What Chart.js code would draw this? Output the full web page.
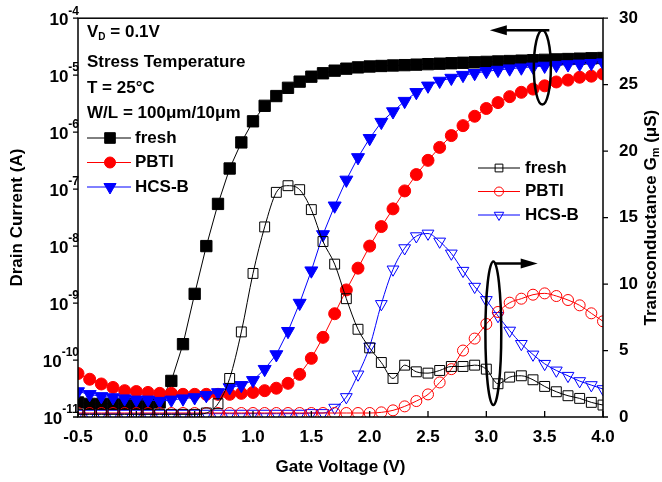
<!DOCTYPE html>
<html>
<head>
  <title>Drain Current / Transconductance</title>
  <script src="https://cdn.jsdelivr.net/npm/chart.js"></script>
  <style>
    html, body { margin: 0; padding: 0; background: #fff; }
  </style>
</head>
<body>
  <canvas id="ivChart" width="662" height="482"></canvas>
  <script>
    // Gate voltage sweep (V)
    const gateVoltage = [-0.5, -0.4, -0.3, -0.2, -0.1, 0.0, 0.1, 0.2, 0.3, 0.4, 0.5, 0.6, 0.7, 0.8, 0.9, 1.0,
      1.1, 1.2, 1.3, 1.4, 1.5, 1.6, 1.7, 1.8, 1.9, 2.0, 2.1, 2.2, 2.3, 2.4, 2.5, 2.6, 2.7, 2.8, 2.9, 3.0,
      3.1, 3.2, 3.3, 3.4, 3.5, 3.6, 3.7, 3.8, 3.9, 4.0];

    // Drain current (A), left log axis
    const idFresh = [1.8e-11, 1.7e-11, 1.7e-11, 1.7e-11, 1.7e-11, 1.7e-11, 1.7e-11, 1.8e-11,
      4.3e-11, 1.9e-10, 1.45e-9, 1.0e-8, 5.5e-8, 2.3e-7, 6.6e-7, 1.55e-6,
      2.9e-6, 4.3e-6, 6.0e-6, 7.7e-6, 9.4e-6, 1.08e-5, 1.2e-5, 1.3e-5, 1.37e-5, 1.42e-5,
      1.45e-5, 1.48e-5, 1.5e-5, 1.53e-5, 1.56e-5, 1.59e-5, 1.62e-5, 1.65e-5, 1.68e-5, 1.71e-5,
      1.74e-5, 1.77e-5, 1.8e-5, 1.83e-5, 1.86e-5, 1.89e-5, 1.92e-5, 1.95e-5, 1.98e-5, 2.0e-5];
    const idPBTI = [5.8e-11, 4.6e-11, 3.8e-11, 3.3e-11, 2.9e-11, 2.8e-11, 2.7e-11, 2.6e-11,
      2.6e-11, 2.5e-11, 2.5e-11, 2.5e-11, 2.5e-11, 2.5e-11, 2.6e-11, 2.7e-11,
      2.9e-11, 3.2e-11, 3.9e-11, 5.6e-11, 1.07e-10, 2.5e-10, 6.5e-10, 1.7e-9, 4.1e-9, 1.0e-8,
      2.2e-8, 4.5e-8, 9.3e-8, 1.8e-7, 3.2e-7, 5.4e-7, 8.7e-7, 1.3e-6, 1.9e-6, 2.6e-6,
      3.3e-6, 4.2e-6, 5.0e-6, 5.7e-6, 6.5e-6, 7.6e-6, 8.2e-6, 9.2e-6, 9.6e-6, 1.05e-5];
    const idHCSB = [2.8e-11, 2.5e-11, 2.3e-11, 2.2e-11, 2.1e-11, 2.0e-11, 2.0e-11, 1.9e-11,
      2.0e-11, 2.1e-11, 2.2e-11, 2.4e-11, 2.7e-11, 3.3e-11, 3.6e-11, 4.4e-11,
      6.9e-11, 1.25e-10, 3.2e-10, 1.0e-9, 3.7e-9, 1.6e-8, 5.1e-8, 1.45e-7, 3.6e-7, 7.8e-7,
      1.5e-6, 2.3e-6, 3.5e-6, 5.0e-6, 6.5e-6, 7.9e-6, 8.9e-6, 1.0e-5, 1.08e-5, 1.17e-5,
      1.23e-5, 1.3e-5, 1.35e-5, 1.4e-5, 1.45e-5, 1.5e-5, 1.54e-5, 1.58e-5, 1.62e-5, 1.66e-5];

    // Transconductance (uS), right linear axis
    const gmFresh = [0.2, 0.2, 0.2, 0.2, 0.2, 0.2, 0.2, 0.2,
      0.2, 0.2, 0.2, 0.3, 1.0, 2.9, 6.4, 10.8,
      14.3, 16.9, 17.4, 17.1, 15.6, 13.2, 11.5, 8.9, 6.6, 5.2,
      4.1, 2.9, 3.9, 3.4, 3.3, 3.5, 3.8, 3.8, 3.9, 3.6,
      2.5, 3.0, 3.1, 2.8, 2.3, 1.9, 1.6, 1.4, 1.1, 0.9];
    const gmPBTI = [0.3, 0.3, 0.3, 0.3, 0.3, 0.3, 0.3, 0.3,
      0.3, 0.3, 0.3, 0.3, 0.3, 0.3, 0.3, 0.3,
      0.3, 0.3, 0.3, 0.3, 0.3, 0.3, 0.3, 0.3, 0.3, 0.3,
      0.35, 0.5, 0.8, 1.2, 1.7, 2.6, 3.6, 5.0, 5.9, 7.0,
      7.9, 8.6, 8.9, 9.2, 9.3, 9.1, 8.8, 8.4, 7.8, 7.2];
    const gmHCSB = [0.25, 0.25, 0.25, 0.25, 0.25, 0.25, 0.25, 0.25,
      0.25, 0.25, 0.25, 0.25, 0.25, 0.25, 0.25, 0.25,
      0.25, 0.25, 0.25, 0.25, 0.3, 0.3, 0.7, 1.5, 3.2, 5.3,
      8.5, 11.1, 12.7, 13.6, 13.8, 13.2, 12.3, 11.0, 9.8, 8.8,
      7.6, 6.5, 5.5, 4.7, 4.0, 3.5, 3.1, 2.7, 2.4, 2.1];

    // Axis ticks
    const xTicks = [-0.5, 0.0, 0.5, 1.0, 1.5, 2.0, 2.5, 3.0, 3.5, 4.0];
    const leftExponents = [-11, -10, -9, -8, -7, -6, -5, -4];
    const rightTicks = [0, 5, 10, 15, 20, 25, 30];

    const FONT = '"Liberation Sans", Arial, sans-serif';
    const pts = arr => gateVoltage.map((v, i) => ({ x: v, y: arr[i] }));

    function series(label, arr, color, style, radius, filled, axis, smooth) {
      return {
        label: label,
        data: pts(arr),
        yAxisID: axis,
        borderColor: color,
        borderWidth: 1,
        backgroundColor: filled ? color : 'rgba(0,0,0,0)',
        pointBackgroundColor: filled ? color : 'rgba(0,0,0,0)',
        pointBorderColor: color,
        pointBorderWidth: 1,
        pointStyle: style,
        pointRotation: style === 'triangle' ? 180 : 0,
        pointRadius: radius,
        fill: false,
        tension: smooth ? 0.4 : 0,
        cubicInterpolationMode: smooth ? 'monotone' : 'default'
      };
    }

    // first dataset is drawn on top
    const datasets = [
      series('fresh', gmFresh, '#000000', 'rect', 7, false, 'y1', true),
      series('PBTI', gmPBTI, '#ff0000', 'circle', 5.5, false, 'y1', true),
      series('HCS-B', gmHCSB, '#0000ff', 'triangle', 6.8, false, 'y1', true),
      series('HCS-B', idHCSB, '#0000ff', 'triangle', 7.5, true, 'y', false),
      series('PBTI', idPBTI, '#ff0000', 'circle', 6, true, 'y', false),
      series('fresh', idFresh, '#000000', 'rect', 8, true, 'y', false)
    ];

    function drawMarker(ctx, style, x, y, r, color, filled) {
      ctx.beginPath();
      if (style === 'rect') {
        const h = r * Math.SQRT1_2;
        ctx.rect(x - h, y - h, 2 * h, 2 * h);
      } else if (style === 'circle') {
        ctx.arc(x, y, r, 0, Math.PI * 2);
      } else {
        const s = r * Math.sin(Math.PI / 3);
        ctx.moveTo(x, y + r);
        ctx.lineTo(x - s, y - r / 2);
        ctx.lineTo(x + s, y - r / 2);
        ctx.closePath();
      }
      if (filled) { ctx.fillStyle = color; ctx.fill(); }
      ctx.strokeStyle = color;
      ctx.lineWidth = 1;
      ctx.stroke();
    }

    function arrow(ctx, x1, y1, x2, y2) {
      const dir = Math.sign(x2 - x1);
      ctx.beginPath();
      ctx.moveTo(x1, y1);
      ctx.lineTo(x2 - dir * 10, y2);
      ctx.stroke();
      ctx.beginPath();
      ctx.moveTo(x2, y2);
      ctx.lineTo(x2 - dir * 17, y2 - 5);
      ctx.lineTo(x2 - dir * 17, y2 + 5);
      ctx.closePath();
      ctx.fill();
    }

    const decorations = {
      id: 'decorations',
      afterDraw(chart) {
        const { ctx, chartArea: a, scales } = chart;
        const x = scales.x, y = scales.y, y1 = scales.y1;
        ctx.save();
        ctx.fillStyle = '#000';
        ctx.strokeStyle = '#000';

        // frame and ticks
        ctx.lineWidth = 1.5;
        ctx.strokeRect(a.left, a.top, a.right - a.left, a.bottom - a.top);
        ctx.lineWidth = 1.3;
        ctx.beginPath();
        xTicks.forEach(v => {
          const px = x.getPixelForValue(v);
          ctx.moveTo(px, a.bottom); ctx.lineTo(px, a.bottom - 6);
        });
        leftExponents.forEach(e => {
          const py = y.getPixelForValue(Math.pow(10, e));
          ctx.moveTo(a.left, py); ctx.lineTo(a.left - 5, py);
        });
        rightTicks.forEach(v => {
          const py = y1.getPixelForValue(v);
          ctx.moveTo(a.right, py); ctx.lineTo(a.right + 5, py);
        });
        ctx.stroke();

        // left tick labels 10^n
        ctx.textBaseline = 'middle';
        leftExponents.forEach(e => {
          const py = y.getPixelForValue(Math.pow(10, e));
          ctx.font = 'bold 12px ' + FONT;
          ctx.textAlign = 'right';
          const ex = String(e);
          const ew = ctx.measureText(ex).width;
          ctx.fillText(ex, a.left + 1, py - 7);
          ctx.font = 'bold 17px ' + FONT;
          ctx.fillText('10', a.left + 1 - ew, py + 2);
        });

        // axis titles
        ctx.font = 'bold 17px ' + FONT;
        ctx.textAlign = 'center';
        ctx.fillText('Gate Voltage (V)', (a.left + a.right) / 2, 467);
        const midY = (a.top + a.bottom) / 2;
        ctx.save();
        ctx.translate(17, midY);
        ctx.rotate(-Math.PI / 2);
        ctx.fillText('Drain Current (A)', 0, 0);
        ctx.restore();

        ctx.save();
        ctx.translate(651, midY);
        ctx.rotate(-Math.PI / 2);
        ctx.textAlign = 'left';
        ctx.font = 'bold 17px ' + FONT;
        const t1 = 'Transconductance G', t3 = ' (\u03bcS)';
        const w1 = ctx.measureText(t1).width, w3 = ctx.measureText(t3).width;
        ctx.font = 'bold 11px ' + FONT;
        const w2 = ctx.measureText('m').width;
        let sx = -(w1 + w2 + w3) / 2;
        ctx.font = 'bold 17px ' + FONT;
        ctx.fillText(t1, sx, 0);
        ctx.font = 'bold 11px ' + FONT;
        ctx.fillText('m', sx + w1, 5);
        ctx.font = 'bold 17px ' + FONT;
        ctx.fillText(t3, sx + w1 + w2, 0);
        ctx.restore();

        // condition text block
        const tx = a.left + 9;
        ctx.textAlign = 'left';
        ctx.font = 'bold 17px ' + FONT;
        ctx.fillText('V', tx, 32);
        const vw = ctx.measureText('V').width;
        ctx.font = 'bold 10px ' + FONT;
        ctx.fillText('D', tx + vw, 37);
        const dw = ctx.measureText('D').width;
        ctx.font = 'bold 17px ' + FONT;
        ctx.fillText(' = 0.1V', tx + vw + dw, 32);
        ctx.fillText('Stress Temperature', tx, 62);
        ctx.fillText('T = 25\u00b0C', tx, 88);
        ctx.fillText('W/L = 100\u03bcm/10\u03bcm', tx, 113);

        // legends
        const legendLeft = [
          ['fresh', '#000000', 'rect', 7.5],
          ['PBTI', '#ff0000', 'circle', 5.5],
          ['HCS-B', '#0000ff', 'triangle', 7]
        ];
        const legendRight = [
          ['fresh', '#000000', 'rect', 5.5],
          ['PBTI', '#ff0000', 'circle', 4.5],
          ['HCS-B', '#0000ff', 'triangle', 5.5]
        ];
        legendLeft.forEach((it, i) => {
          const ly = 138 + i * 24.5;
          ctx.strokeStyle = it[1]; ctx.lineWidth = 1;
          ctx.beginPath(); ctx.moveTo(a.left + 9, ly); ctx.lineTo(a.left + 53, ly); ctx.stroke();
          drawMarker(ctx, it[2], a.left + 32, ly, it[3], it[1], true);
          ctx.fillStyle = '#000';
          ctx.font = 'bold 17px ' + FONT;
          ctx.fillText(it[0], a.left + 57, ly);
        });
        legendRight.forEach((it, i) => {
          const ly = 168 + i * 23.5;
          ctx.strokeStyle = it[1]; ctx.lineWidth = 1;
          ctx.beginPath(); ctx.moveTo(478, ly); ctx.lineTo(520, ly); ctx.stroke();
          drawMarker(ctx, it[2], 499, ly, it[3], it[1], false);
          ctx.fillStyle = '#000';
          ctx.font = 'bold 17px ' + FONT;
          ctx.fillText(it[0], 525, ly);
        });

        // ellipses and arrows (placed in data units)
        ctx.strokeStyle = '#000';
        ctx.fillStyle = '#000';
        ctx.lineWidth = 2.5;
        const ell = (vx, g, rvx, rg) => {
          const cx = x.getPixelForValue(vx), cy = y1.getPixelForValue(g);
          const rx = x.getPixelForValue(vx + rvx) - cx;
          const ry = cy - y1.getPixelForValue(g + rg);
          ctx.beginPath();
          ctx.ellipse(cx, cy, rx, ry, 0, 0, Math.PI * 2);
          ctx.stroke();
        };
        ell(3.48, 26.3, 0.073, 2.8);
        arrow(ctx, x.getPixelForValue(3.54), y1.getPixelForValue(29.1),
          x.getPixelForValue(3.03), y1.getPixelForValue(29.1));
        ell(3.06, 6.3, 0.068, 5.4);
        arrow(ctx, x.getPixelForValue(3.07), y1.getPixelForValue(11.55),
          x.getPixelForValue(3.44), y1.getPixelForValue(11.55));

        ctx.restore();
      }
    };

    new Chart(document.getElementById('ivChart'), {
      type: 'line',
      data: { datasets },
      options: {
        responsive: false,
        animation: false,
        layout: { padding: { top: 14, left: 0, right: 0, bottom: 0 } },
        plugins: { legend: { display: false }, tooltip: { enabled: false } },
        scales: {
          x: {
            type: 'linear', min: -0.5, max: 4.0,
            afterFit: s => { s.height = 65; },
            afterBuildTicks: s => { s.ticks = xTicks.map(v => ({ value: v })); },
            grid: { display: false }, border: { display: false },
            ticks: {
              color: '#000', padding: 2, maxRotation: 0, autoSkip: false,
              font: { family: FONT, size: 17, weight: 'bold' },
              callback: v => Number(v).toFixed(1)
            }
          },
          y: {
            type: 'logarithmic', position: 'left', min: 1e-11, max: 1e-4,
            afterFit: s => { s.width = 78; },
            grid: { display: false }, border: { display: false },
            ticks: { display: false }
          },
          y1: {
            type: 'linear', position: 'right', min: 0, max: 30,
            afterFit: s => { s.width = 59; },
            grid: { display: false }, border: { display: false },
            ticks: {
              color: '#000', padding: 8, stepSize: 5,
              font: { family: FONT, size: 17, weight: 'bold' }
            }
          }
        }
      },
      plugins: [decorations]
    });
  </script>
</body>
</html>
